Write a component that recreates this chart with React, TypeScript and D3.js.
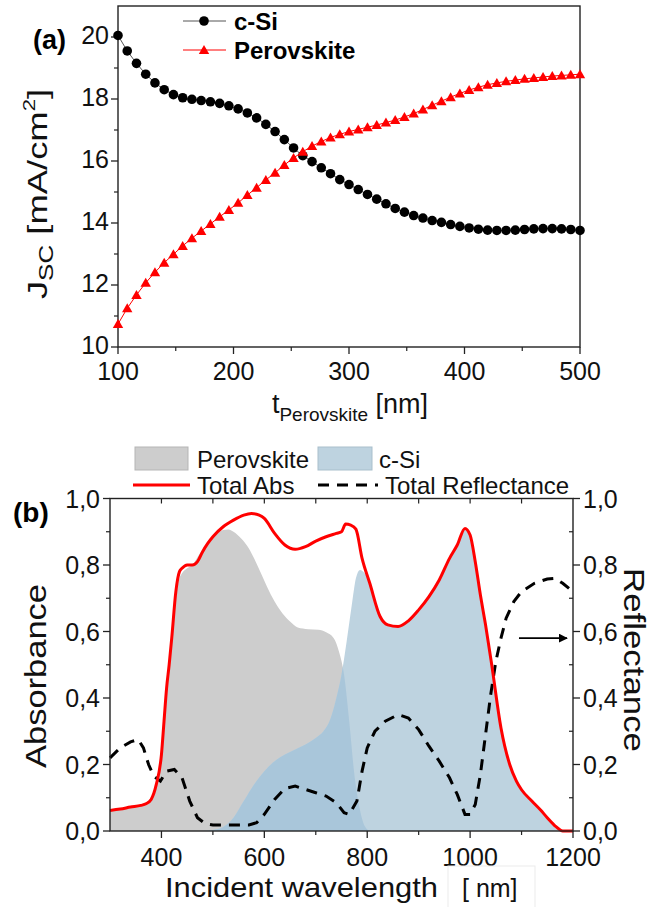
import React from "react";
import * as d3 from "d3";

// ---------- (a) short-circuit current vs perovskite thickness ----------
const thicknessNm = d3.range(100, 501, 8);
const jscCSi = [
  20.05, 19.55, 19.15, 18.8, 18.52, 18.3, 18.14, 18.04, 17.99, 17.95, 17.91,
  17.86, 17.78, 17.68, 17.55, 17.39, 17.18, 16.95, 16.69, 16.42, 16.17, 15.98,
  15.78, 15.59, 15.4, 15.24, 15.08, 14.92, 14.77, 14.62, 14.47, 14.35, 14.24,
  14.16, 14.08, 14.02, 13.95, 13.89, 13.84, 13.8, 13.77, 13.76, 13.76, 13.77,
  13.79, 13.81, 13.82, 13.82, 13.81, 13.79, 13.76,
];
const jscPerovskite = [
  10.74, 11.25, 11.68, 12.07, 12.41, 12.72, 12.99, 13.26, 13.51, 13.74, 13.97,
  14.2, 14.42, 14.65, 14.9, 15.14, 15.39, 15.62, 15.87, 16.1, 16.3, 16.48,
  16.63, 16.76, 16.86, 16.95, 17.02, 17.09, 17.16, 17.24, 17.32, 17.42, 17.53,
  17.66, 17.8, 17.93, 18.06, 18.18, 18.29, 18.38, 18.46, 18.52, 18.57, 18.61,
  18.65, 18.68, 18.71, 18.74, 18.76, 18.78, 18.8,
];
const topXTicks = [100, 200, 300, 400, 500];
const topXMinor = [150, 250, 350, 450];
const topYTicks = [10, 12, 14, 16, 18, 20];
const topYMinor = [11, 13, 15, 17, 19];

// ---------- (b) absorbance / reflectance spectra ----------
const totalAbsNm = [
  300, 320, 340, 360, 370, 380, 390, 400, 405, 410, 415, 420, 428, 435, 440,
  450, 460, 470, 480, 490, 500, 520, 540, 560, 575, 590, 600, 620, 640, 660,
  680, 700, 720, 740, 750, 758, 768, 778, 790, 805, 825, 840, 860, 880, 900,
  920, 940, 960, 975, 990, 1000, 1010, 1020, 1030, 1042, 1060, 1077, 1090,
  1100, 1120, 1137, 1150, 1167, 1180, 1200,
];
const totalAbs = [
  0.062, 0.066, 0.072, 0.077, 0.082, 0.095, 0.14, 0.23, 0.33, 0.43, 0.5, 0.58,
  0.72, 0.78, 0.79, 0.8, 0.8, 0.81, 0.84, 0.865, 0.885, 0.915, 0.935, 0.95,
  0.955, 0.95, 0.94, 0.895, 0.86, 0.847, 0.855, 0.872, 0.885, 0.895, 0.9,
  0.923, 0.92, 0.908, 0.82, 0.745, 0.645, 0.62, 0.615, 0.632, 0.665, 0.705,
  0.755, 0.82, 0.86, 0.91, 0.89, 0.81, 0.71, 0.62, 0.5, 0.31, 0.2, 0.15, 0.124,
  0.09, 0.063, 0.04, 0.013, 0.0, 0.0,
];

const perovskiteNm = [
  300, 320, 340, 360, 370, 380, 390, 400, 405, 410, 415, 420, 428, 435, 440,
  450, 460, 475, 490, 505, 520, 530, 540, 555, 570, 580, 595, 605, 620, 635,
  650, 665, 685, 705, 720, 735, 745, 755, 765, 775, 785, 795, 805,
];
const perovskiteAbs = [
  0.062, 0.066, 0.072, 0.077, 0.082, 0.095, 0.14, 0.23, 0.33, 0.43, 0.5, 0.57,
  0.7, 0.76, 0.775, 0.79, 0.8, 0.835, 0.865, 0.89, 0.905, 0.907, 0.9, 0.88,
  0.85, 0.82, 0.77, 0.735, 0.69, 0.655, 0.63, 0.612, 0.607, 0.605, 0.598,
  0.58, 0.54, 0.47, 0.33, 0.17, 0.07, 0.015, 0,
];

const cSiNm = [
  480, 500, 520, 540, 560, 580, 600, 620, 640, 660, 680, 700, 715, 728, 740,
  750, 760, 770, 778, 786, 795, 805, 825, 840, 860, 880, 900, 920, 940, 960,
  975, 990, 1000, 1010, 1020, 1030, 1042, 1060, 1077, 1090, 1100, 1120, 1137,
  1150, 1167, 1180, 1200,
];
const cSiAbs = [
  0, 0.003, 0.012, 0.04, 0.09, 0.14, 0.18, 0.21, 0.23, 0.245, 0.26, 0.28, 0.3,
  0.335, 0.4, 0.47, 0.57, 0.68, 0.76, 0.785, 0.775, 0.745, 0.645, 0.62, 0.615,
  0.632, 0.665, 0.705, 0.755, 0.82, 0.86, 0.91, 0.89, 0.81, 0.71, 0.62, 0.5,
  0.31, 0.2, 0.15, 0.124, 0.09, 0.063, 0.04, 0.013, 0, 0,
];

const reflNm = [
  300, 320, 340, 355, 365, 375, 385, 398, 410, 425, 440, 455, 470, 485, 500,
  530, 570, 585, 600, 620, 640, 660, 680, 700, 720, 740, 755, 765, 780, 790,
  800, 815, 835, 860, 880, 900, 920, 940, 960, 975, 990, 1000, 1010, 1020,
  1030, 1040, 1050, 1060, 1070, 1085, 1100, 1125, 1150, 1165, 1180, 1200,
];
const totalReflectance = [
  0.22, 0.25, 0.268, 0.275, 0.25, 0.2, 0.165, 0.15, 0.18, 0.185, 0.16, 0.09,
  0.04, 0.022, 0.018, 0.018, 0.018, 0.025, 0.05, 0.095, 0.128, 0.135, 0.125,
  0.115, 0.105, 0.085, 0.055, 0.05, 0.09, 0.18, 0.25, 0.3, 0.33, 0.35, 0.34,
  0.305, 0.255, 0.21, 0.16, 0.11, 0.05, 0.05, 0.08, 0.17, 0.29, 0.41, 0.51,
  0.58, 0.64, 0.69, 0.72, 0.745, 0.758, 0.76, 0.745, 0.72,
];

const botXTicks = [400, 600, 800, 1000, 1200];
const botXMinor = [500, 700, 900, 1100];
const botTopTicks = [400, 500, 600, 700, 800, 900, 1000, 1100];
const botYTicks = [0, 0.2, 0.4, 0.6, 0.8, 1.0];
const botYMinor = [0.1, 0.3, 0.5, 0.7, 0.9];

const FONT = "'Liberation Sans', Arial, sans-serif";
const RED = "#ff0000";
const GRAY = "#cdcdcd";
const LIGHT_BLUE = "#bed3e0";
const DEEP_BLUE = "#a9c6da";
const AXIS = "#222";

const fmtComma = (v: number) => d3.format(".1f")(v).replace(".", ",");

export default function App() {
  // panel (a) scales
  const xT = d3.scaleLinear().domain([100, 500]).range([118, 580]);
  const yT = d3.scaleLinear().domain([10, 21]).range([347, 6]);
  const [tl, tr] = xT.range();
  const [tb, tt] = yT.range();

  const lineSi = d3
    .line<number>()
    .x((_, i) => xT(thicknessNm[i]))
    .y((d) => yT(d));

  const trianglePath = (cx: number, cy: number) =>
    `M${cx},${cy - 5}L${cx + 5.2},${cy + 4}L${cx - 5.2},${cy + 4}Z`;

  // panel (b) scales
  const xB = d3.scaleLinear().domain([300, 1200]).range([110, 573]);
  const yB = d3.scaleLinear().domain([0, 1]).range([831, 498.5]);
  const [bl, br] = xB.range();
  const [bb, bt] = yB.range();

  const areaFrom = (xs: number[]) =>
    d3
      .area<number>()
      .x((_, i) => xB(xs[i]))
      .y0(yB(0))
      .y1((d) => yB(d))
      .curve(d3.curveMonotoneX);

  const pvkArea = areaFrom(perovskiteNm)(perovskiteAbs) || "";
  const siArea = areaFrom(cSiNm)(cSiAbs) || "";
  const absLine =
    d3
      .line<number>()
      .x((_, i) => xB(totalAbsNm[i]))
      .y((d) => yB(d))
      .curve(d3.curveMonotoneX)(totalAbs) || "";
  const reflLine =
    d3
      .line<number>()
      .x((_, i) => xB(reflNm[i]))
      .y((d) => yB(d))(totalReflectance) || "";

  const tickLabel = {
    fontFamily: FONT,
    fontSize: 25,
    fill: "#111",
  } as const;

  return (
    <svg
      width={654}
      height={907}
      viewBox="0 0 654 907"
      style={{ position: "absolute", left: 0, top: 0, background: "#fff" }}
    >
      <defs>
        <clipPath id="pvk-clip">
          <path d={pvkArea} />
        </clipPath>
        <marker
          id="arrow-head"
          viewBox="0 0 10 10"
          refX="9"
          refY="5"
          markerWidth="9"
          markerHeight="9"
          markerUnits="userSpaceOnUse"
          orient="auto"
        >
          <path d="M0,0L10,5L0,10Z" fill="#000" />
        </marker>
      </defs>
      <rect x={0} y={0} width={654} height={907} fill="#fff" />

      {/* ================= panel (a) ================= */}
      <g>
        <rect
          x={tl}
          y={tt}
          width={tr - tl}
          height={tb - tt}
          fill="none"
          stroke={AXIS}
          strokeWidth={1.4}
        />
        {topYTicks.map((v) => (
          <g key={`ty${v}`}>
            <line x1={tl - 7} x2={tl} y1={yT(v)} y2={yT(v)} stroke={AXIS} strokeWidth={1.3} />
            <text
              x={tl - 9}
              y={yT(v) - 2}
              textAnchor="end"
              dominantBaseline="central"
              {...tickLabel}
            >
              {v}
            </text>
          </g>
        ))}
        {topYMinor.map((v) => (
          <line key={`tym${v}`} x1={tl - 4} x2={tl} y1={yT(v)} y2={yT(v)} stroke={AXIS} strokeWidth={1.2} />
        ))}
        {topXTicks.map((v) => (
          <g key={`tx${v}`}>
            <line x1={xT(v)} x2={xT(v)} y1={tb} y2={tb + 7} stroke={AXIS} strokeWidth={1.3} />
            <text x={xT(v)} y={tb + 24} textAnchor="middle" dominantBaseline="central" {...tickLabel}>
              {v}
            </text>
          </g>
        ))}
        {topXMinor.map((v) => (
          <line key={`txm${v}`} x1={xT(v)} x2={xT(v)} y1={tb} y2={tb + 4} stroke={AXIS} strokeWidth={1.2} />
        ))}

        {/* series */}
        <path d={lineSi(jscCSi) || ""} fill="none" stroke="#555" strokeWidth={1} />
        <path d={lineSi(jscPerovskite) || ""} fill="none" stroke={RED} strokeWidth={1} />
        {jscCSi.map((v, i) => (
          <circle key={`c${i}`} cx={xT(thicknessNm[i])} cy={yT(v)} r={4.8} fill="#000" />
        ))}
        {jscPerovskite.map((v, i) => (
          <path key={`p${i}`} d={trianglePath(xT(thicknessNm[i]), yT(v))} fill={RED} />
        ))}

        {/* legend */}
        <line x1={183} x2={226} y1={21} y2={21} stroke="#555" strokeWidth={1} />
        <circle cx={204} cy={21} r={4.8} fill="#000" />
        <text x={234} y={21} dominantBaseline="central" fontFamily={FONT} fontSize={24} fontWeight="bold">
          c-Si
        </text>
        <line x1={183} x2={226} y1={50} y2={50} stroke={RED} strokeWidth={1} />
        <path d={trianglePath(204, 50)} fill={RED} />
        <text x={234} y={50} dominantBaseline="central" fontFamily={FONT} fontSize={24} fontWeight="bold">
          Perovskite
        </text>

        {/* titles */}
        <text x={33} y={40} dominantBaseline="central" fontFamily={FONT} fontSize={27} fontWeight="bold">
          (a)
        </text>
        <text
          transform="translate(47,194) rotate(-90) scale(1.3,1)"
          textAnchor="middle"
          fontFamily={FONT}
          fontSize={28}
          fill="#111"
        >
          J<tspan fontSize={20} dy={6}>SC</tspan>
          <tspan dy={-6}> [mA/cm</tspan>
          <tspan fontSize={17} dy={-12}>2</tspan>
          <tspan dy={12}>]</tspan>
        </text>
        <text x={350} y={413} textAnchor="middle" fontFamily={FONT} fontSize={27} fill="#111">
          t<tspan fontSize={19} dy={8}>Perovskite</tspan>
          <tspan dy={-8}> [nm]</tspan>
        </text>
      </g>

      {/* ================= panel (b) ================= */}
      <g>
        {/* legend */}
        <rect x={135} y={447} width={53} height={23} fill={GRAY} stroke="#b5b5b5" strokeWidth={1} />
        <text x={197} y={459} dominantBaseline="central" fontFamily={FONT} fontSize={24} fill="#111">
          Perovskite
        </text>
        <rect x={318} y={447} width={54} height={23} fill={LIGHT_BLUE} stroke="#a9bfcc" strokeWidth={1} />
        <text x={379} y={459} dominantBaseline="central" fontFamily={FONT} fontSize={24} fill="#111">
          c-Si
        </text>
        <line x1={133} x2={190} y1={485} y2={485} stroke={RED} strokeWidth={3} />
        <text x={197} y={485} dominantBaseline="central" fontFamily={FONT} fontSize={24} fill="#111">
          Total Abs
        </text>
        <line x1={318} x2={378} y1={485} y2={485} stroke="#000" strokeWidth={3} strokeDasharray="11,8" />
        <text x={385} y={485} dominantBaseline="central" fontFamily={FONT} fontSize={24} fill="#111">
          Total Reflectance
        </text>

        {/* filled absorption areas */}
        <path d={pvkArea} fill={GRAY} />
        <path d={siArea} fill={LIGHT_BLUE} />
        <path d={siArea} fill={DEEP_BLUE} clipPath="url(#pvk-clip)" />

        {/* curves */}
        <path d={reflLine} fill="none" stroke="#000" strokeWidth={3} strokeDasharray="11,8" />
        <path d={absLine} fill="none" stroke={RED} strokeWidth={3} strokeLinejoin="round" />

        {/* arrow toward the reflectance axis */}
        <line
          x1={xB(1095)}
          x2={xB(1200) - 6}
          y1={yB(0.58)}
          y2={yB(0.58)}
          stroke="#000"
          strokeWidth={1.6}
          markerEnd="url(#arrow-head)"
        />

        {/* frame */}
        <rect x={bl} y={bt} width={br - bl} height={bb - bt} fill="none" stroke={AXIS} strokeWidth={1.4} />

        {/* left axis */}
        {botYTicks.map((v) => (
          <g key={`by${v}`}>
            <line x1={bl - 7} x2={bl} y1={yB(v)} y2={yB(v)} stroke={AXIS} strokeWidth={1.3} />
            <text x={bl - 10} y={yB(v)} textAnchor="end" dominantBaseline="central" {...tickLabel}>
              {fmtComma(v)}
            </text>
          </g>
        ))}
        {botYMinor.map((v) => (
          <line key={`bym${v}`} x1={bl - 4} x2={bl} y1={yB(v)} y2={yB(v)} stroke={AXIS} strokeWidth={1.2} />
        ))}

        {/* right axis */}
        {botYTicks.map((v) => (
          <g key={`ry${v}`}>
            <line x1={br} x2={br + 7} y1={yB(v)} y2={yB(v)} stroke={AXIS} strokeWidth={1.3} />
            <text x={br + 10} y={yB(v)} textAnchor="start" dominantBaseline="central" {...tickLabel}>
              {fmtComma(v)}
            </text>
          </g>
        ))}
        {botYMinor.map((v) => (
          <line key={`rym${v}`} x1={br - 4} x2={br} y1={yB(v)} y2={yB(v)} stroke={AXIS} strokeWidth={1.2} />
        ))}

        {/* bottom axis */}
        {botXTicks.map((v) => (
          <g key={`bx${v}`}>
            <line x1={xB(v)} x2={xB(v)} y1={bb} y2={bb + 7} stroke={AXIS} strokeWidth={1.3} />
            <text x={xB(v)} y={bb + 26} textAnchor="middle" dominantBaseline="central" {...tickLabel}>
              {v}
            </text>
          </g>
        ))}
        {botXMinor.map((v) => (
          <line key={`bxm${v}`} x1={xB(v)} x2={xB(v)} y1={bb} y2={bb + 4} stroke={AXIS} strokeWidth={1.2} />
        ))}
        {botTopTicks.map((v) => (
          <line key={`bt${v}`} x1={xB(v)} x2={xB(v)} y1={bt} y2={bt + 5} stroke={AXIS} strokeWidth={1.2} />
        ))}

        {/* titles */}
        <text x={13} y={512} dominantBaseline="central" fontFamily={FONT} fontSize={28} fontWeight="bold">
          (b)
        </text>
        <text
          transform="translate(46,676) rotate(-90)"
          textAnchor="middle"
          fontFamily={FONT}
          fontSize={29}
          fill="#111"
          textLength={184}
          lengthAdjust="spacingAndGlyphs"
        >
          Absorbance
        </text>
        <text
          transform="translate(624,660) rotate(90)"
          textAnchor="middle"
          fontFamily={FONT}
          fontSize={29}
          fill="#111"
          textLength={184}
          lengthAdjust="spacingAndGlyphs"
        >
          Reflectance
        </text>
        <text x={165} y={897} fontFamily={FONT} fontSize={28} fill="#111" textLength={273} lengthAdjust="spacingAndGlyphs">
          Incident wavelength
        </text>
        <rect x={448} y={866} width={87} height={45} fill="#fff" stroke="#ebebeb" strokeWidth={1} />
        <text x={462} y={897} fontFamily={FONT} fontSize={25} fill="#111">
          [ nm]
        </text>
      </g>
    </svg>
  );
}
